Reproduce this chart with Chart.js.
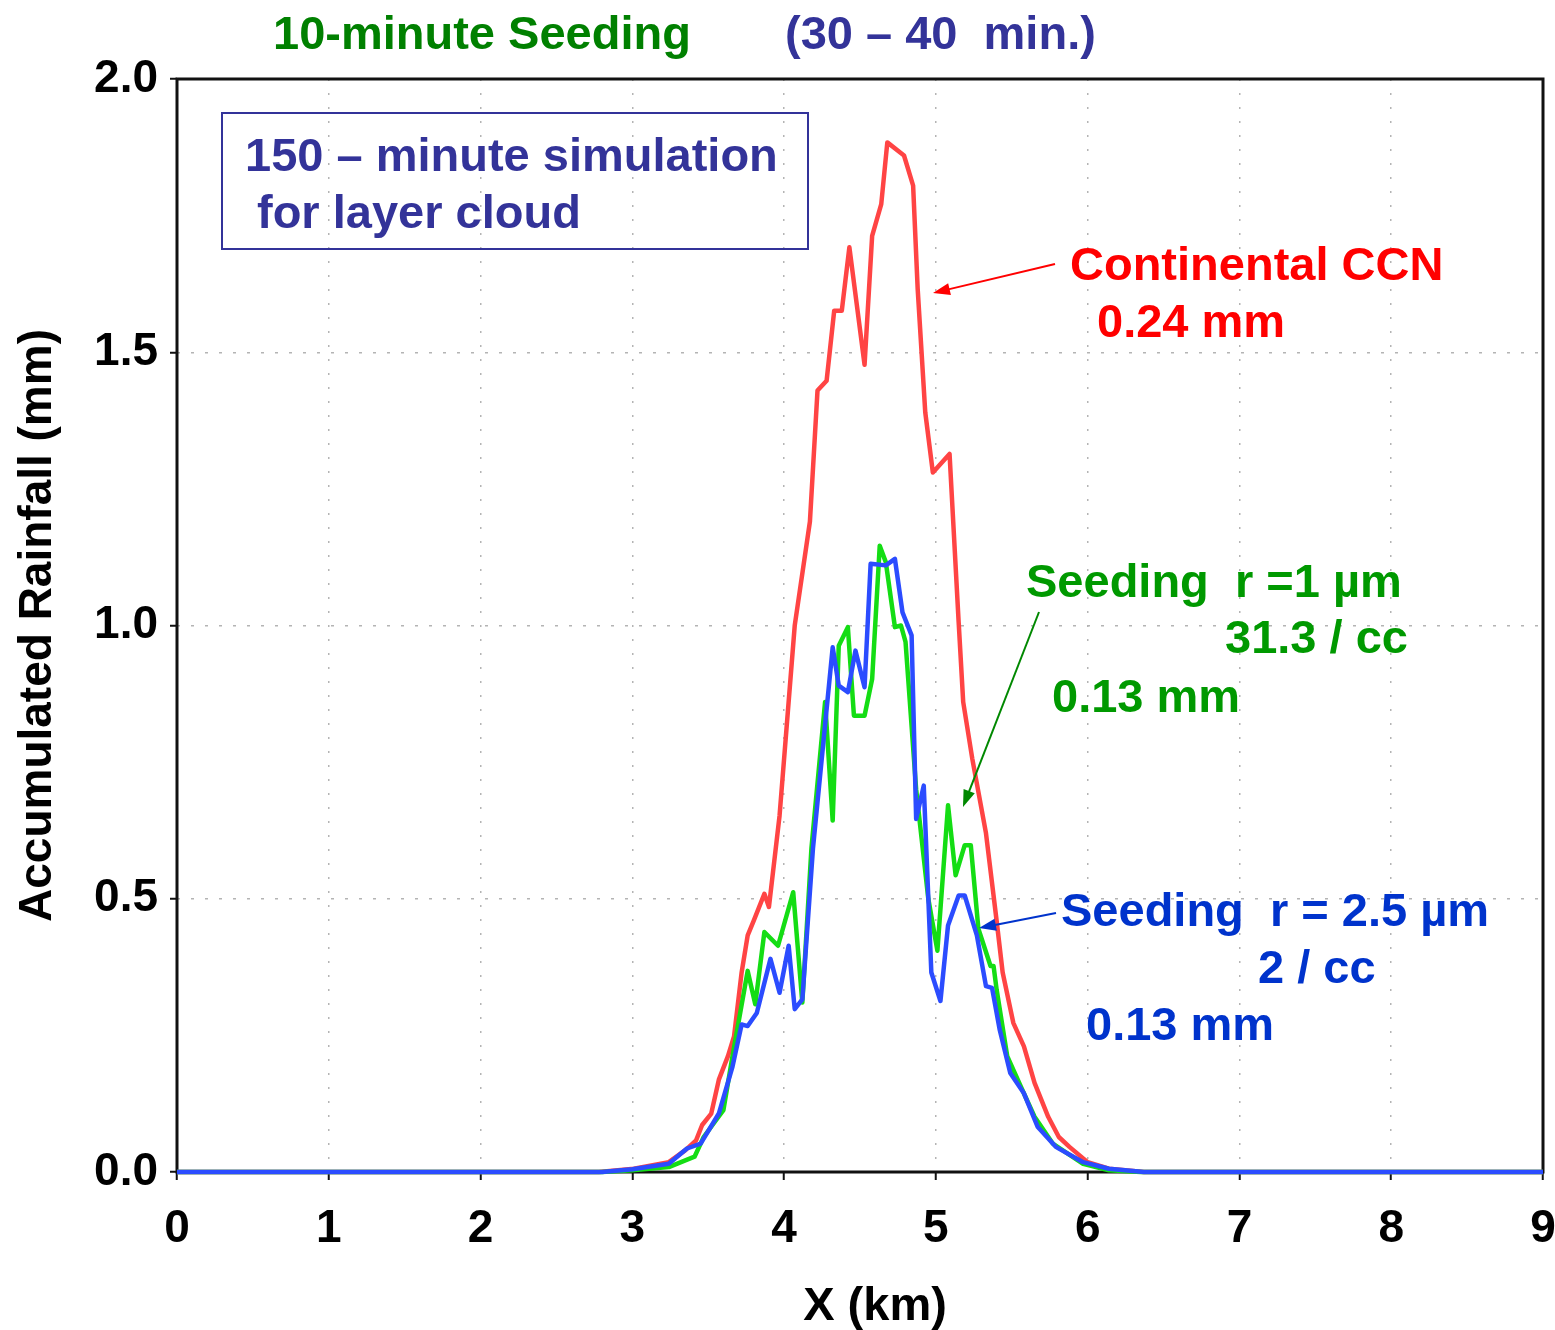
<!DOCTYPE html>
<html lang="en">
<head>
<meta charset="UTF-8">
<title>Accumulated Rainfall - 10-minute Seeding</title>
<script src="https://cdn.jsdelivr.net/npm/chart.js"></script>
<style>
body { margin: 0; background: #ffffff; }
#chart { display: block; }
</style>
</head>
<body>
<canvas id="chart" width="1555" height="1330"></canvas>
<script>
// values (x in km, rainfall in mm)
const xRed = [0, 2.78, 3.01, 3.24, 3.35, 3.42, 3.46, 3.52, 3.57, 3.63, 3.67, 3.72, 3.76, 3.80, 3.87, 3.90, 3.97, 4.07, 4.17, 4.22, 4.28, 4.33, 4.38, 4.43, 4.53, 4.58, 4.64, 4.68, 4.79, 4.85, 4.88, 4.93, 4.98, 5.09, 5.15, 5.18, 5.24, 5.33, 5.40, 5.44, 5.51, 5.58, 5.65, 5.74, 5.81, 5.88, 6.00, 6.14, 6.37, 9];
const yRed = [0, 0, 0.006, 0.018, 0.040, 0.058, 0.086, 0.107, 0.169, 0.212, 0.248, 0.365, 0.433, 0.460, 0.509, 0.485, 0.652, 1.0, 1.19, 1.43, 1.448, 1.576, 1.576, 1.692, 1.477, 1.713, 1.771, 1.884, 1.86, 1.805, 1.616, 1.39, 1.28, 1.314, 1.006, 0.86, 0.756, 0.62, 0.46, 0.365, 0.273, 0.23, 0.163, 0.101, 0.064, 0.046, 0.018, 0.006, 0, 0];

const xGreen = [0, 2.8, 3.0, 3.24, 3.41, 3.47, 3.60, 3.66, 3.76, 3.81, 3.87, 3.96, 4.06, 4.12, 4.18, 4.27, 4.32, 4.36, 4.42, 4.46, 4.53, 4.58, 4.63, 4.67, 4.73, 4.77, 4.80, 4.87, 4.95, 5.01, 5.08, 5.13, 5.19, 5.23, 5.28, 5.36, 5.38, 5.40, 5.47, 5.56, 5.65, 5.77, 5.97, 6.14, 6.35, 9];
const yGreen = [0, 0, 0.003, 0.009, 0.028, 0.064, 0.113, 0.212, 0.368, 0.307, 0.439, 0.414, 0.512, 0.310, 0.592, 0.860, 0.643, 0.963, 0.997, 0.835, 0.835, 0.902, 1.146, 1.116, 0.997, 1.0, 0.970, 0.70, 0.50, 0.405, 0.671, 0.543, 0.598, 0.598, 0.445, 0.377, 0.377, 0.334, 0.212, 0.156, 0.101, 0.052, 0.015, 0.003, 0, 0];

const xBlue = [0, 2.8, 3.0, 3.24, 3.36, 3.45, 3.57, 3.66, 3.72, 3.76, 3.82, 3.91, 3.97, 4.03, 4.07, 4.12, 4.19, 4.32, 4.36, 4.42, 4.47, 4.53, 4.57, 4.67, 4.73, 4.78, 4.84, 4.87, 4.92, 4.97, 5.03, 5.08, 5.15, 5.19, 5.27, 5.33, 5.37, 5.42, 5.49, 5.58, 5.67, 5.79, 5.97, 6.14, 6.37, 9];
const yBlue = [0, 0, 0.005, 0.015, 0.043, 0.052, 0.107, 0.193, 0.270, 0.267, 0.291, 0.390, 0.328, 0.414, 0.298, 0.316, 0.592, 0.960, 0.890, 0.878, 0.954, 0.887, 1.113, 1.110, 1.122, 1.024, 0.982, 0.646, 0.707, 0.365, 0.313, 0.451, 0.506, 0.506, 0.433, 0.340, 0.337, 0.261, 0.181, 0.144, 0.083, 0.046, 0.018, 0.006, 0, 0];

const xTicks = [0, 1, 2, 3, 4, 5, 6, 7, 8, 9];
const yTicks = [0, 0.5, 1.0, 1.5, 2.0];

const FONT = "'Liberation Sans', Arial, sans-serif";
const NAVY = '#333399';

function points(xs, ys) {
  return xs.map((x, i) => ({ x: x, y: ys[i] }));
}

function line(label, xs, ys, color) {
  return {
    label: label,
    data: points(xs, ys),
    borderColor: color,
    borderWidth: 4.5,
    borderJoinStyle: 'round',
    pointRadius: 0,
    tension: 0,
    fill: false,
    clip: 8
  };
}

function arrow(ctx, x1, y1, x2, y2, color) {
  const a = Math.atan2(y2 - y1, x2 - x1);
  const len = 17, half = 6;
  ctx.save();
  ctx.strokeStyle = color;
  ctx.fillStyle = color;
  ctx.lineWidth = 2;
  ctx.beginPath();
  ctx.moveTo(x1, y1);
  ctx.lineTo(x2 - Math.cos(a) * len * 0.8, y2 - Math.sin(a) * len * 0.8);
  ctx.stroke();
  ctx.beginPath();
  ctx.moveTo(x2, y2);
  ctx.lineTo(x2 - Math.cos(a) * len - Math.sin(a) * half, y2 - Math.sin(a) * len + Math.cos(a) * half);
  ctx.lineTo(x2 - Math.cos(a) * len + Math.sin(a) * half, y2 - Math.sin(a) * len - Math.cos(a) * half);
  ctx.closePath();
  ctx.fill();
  ctx.restore();
}

function text(ctx, str, x, y, color) {
  ctx.fillStyle = color;
  ctx.fillText(str, x, y);
}

// frame around the plot, under the curves
const framePlugin = {
  id: 'frame',
  beforeDatasetsDraw(chart) {
    const { ctx, chartArea: a } = chart;
    ctx.save();
    ctx.strokeStyle = '#111111';
    ctx.lineWidth = 3;
    ctx.strokeRect(a.left, a.top, a.right - a.left, a.bottom - a.top);
    ctx.restore();
  }
};

// titles, the note box and the labelled arrows
const notesPlugin = {
  id: 'notes',
  afterDraw(chart) {
    const ctx = chart.ctx;
    ctx.save();
    ctx.font = 'bold 47px ' + FONT;
    ctx.textAlign = 'left';
    ctx.textBaseline = 'alphabetic';

    text(ctx, '10-minute Seeding', 273, 49, '#008000');
    text(ctx, '(30 \u2013 40  min.)', 785, 49, NAVY);

    ctx.strokeStyle = NAVY;
    ctx.lineWidth = 2;
    ctx.strokeRect(222, 113, 586, 136);
    text(ctx, '150 \u2013 minute simulation', 245, 171, NAVY);
    text(ctx, 'for layer cloud', 257, 228, NAVY);

    text(ctx, 'Continental CCN', 1070, 280, '#ff0000');
    text(ctx, '0.24 mm', 1097, 337, '#ff0000');
    arrow(ctx, 1055, 264, 933, 293, '#ff0000');

    text(ctx, 'Seeding  r =1 \u00b5m', 1026, 597, '#009900');
    text(ctx, '31.3 / cc', 1225, 653, '#009900');
    text(ctx, '0.13 mm', 1052, 712, '#009900');
    arrow(ctx, 1039, 612, 963, 807, '#008800');

    text(ctx, 'Seeding  r = 2.5 \u00b5m', 1061, 926, '#0033cc');
    text(ctx, '2 / cc', 1258, 983, '#0033cc');
    text(ctx, '0.13 mm', 1086, 1040, '#0033cc');
    arrow(ctx, 1056, 913, 979, 928, '#0033cc');

    ctx.textAlign = 'center';
    text(ctx, 'X (km)', 875, 1320, '#000000');
    ctx.restore();
  }
};

Chart.defaults.font.family = FONT;

new Chart(document.getElementById('chart'), {
  type: 'line',
  data: {
    datasets: [
      line('Seeding r = 2.5 \u00b5m', xBlue, yBlue, '#2b4cff'),
      line('Seeding r = 1 \u00b5m', xGreen, yGreen, '#14dd14'),
      line('Continental CCN', xRed, yRed, '#ff4444')
    ]
  },
  options: {
    responsive: false,
    animation: false,
    events: [],
    layout: { padding: { top: 79, right: 12, left: 0, bottom: 0 } },
    plugins: { legend: { display: false }, tooltip: { enabled: false } },
    scales: {
      x: {
        type: 'linear',
        min: xTicks[0],
        max: xTicks[xTicks.length - 1],
        afterBuildTicks: s => { s.ticks = xTicks.map(v => ({ value: v })); },
        afterFit: s => { s.height = 158; s.paddingLeft = 0; s.paddingRight = 0; },
        grid: { color: '#b4b4b4', lineWidth: 1.5, tickColor: '#111111', tickWidth: 2, tickLength: 8, tickBorderDash: [] },
        border: { display: false, dash: [2, 12] },
        ticks: {
          color: '#000000',
          padding: 22,
          maxRotation: 0,
          font: { size: 46, weight: 'bold' },
          callback: v => String(v)
        }
      },
      y: {
        min: yTicks[0],
        max: yTicks[yTicks.length - 1],
        afterBuildTicks: s => { s.ticks = yTicks.map(v => ({ value: v })); },
        afterFit: s => { s.width = 177; s.paddingTop = 0; s.paddingBottom = 0; },
        grid: { color: '#b4b4b4', lineWidth: 1.5, tickColor: '#111111', tickWidth: 2, tickLength: 7, tickBorderDash: [] },
        border: { display: false, dash: [3, 11] },
        ticks: {
          color: '#000000',
          padding: 12,
          font: { size: 46, weight: 'bold' },
          callback: v => v.toFixed(1)
        },
        title: {
          display: true,
          text: 'Accumulated Rainfall (mm)',
          color: '#000000',
          font: { size: 46, weight: 'bold' },
          padding: { top: 11, bottom: 0 }
        }
      }
    }
  },
  plugins: [framePlugin, notesPlugin]
});
</script>
</body>
</html>
